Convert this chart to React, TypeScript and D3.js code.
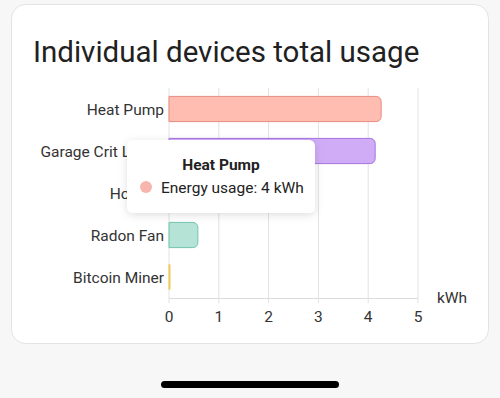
import React from 'react';
import * as d3 from 'd3';

const devices = ['Heat Pump', 'Garage Crit Loads', 'Hot Tub', 'Radon Fan', 'Bitcoin Miner'];
const usage = [4.26, 4.14, 1.8, 0.58, 0.02];
const fills = ['#ffbdb2', '#d0acf6', '#b6e3d6', '#b5e4d6', '#f7dc8a'];
const strokes = ['#e88a7f', '#a672e0', '#72c4ad', '#72c4ad', '#efc54a'];
const xTicks = [0, 1, 2, 3, 4, 5];

const W = 500;
const H = 398;
const font = 'Roboto, "Noto Sans", sans-serif';

// rounded on the right side only
const barPath = (x0: number, y: number, w: number, h: number, r: number) => {
  const rr = Math.min(r, w, h / 2);
  return `M${x0},${y}H${x0 + w - rr}A${rr},${rr} 0 0 1 ${x0 + w},${y + rr}V${y + h - rr}A${rr},${rr} 0 0 1 ${x0 + w - rr},${y + h}H${x0}Z`;
};

export default function App() {
  const xScale = d3.scaleLinear().domain([0, 5]).range([169, 418]);
  const yScale = d3.scaleBand().domain(devices).range([88, 298]).paddingInner(0.4).paddingOuter(0.2);

  const tip = { x: 127, y: 140, w: 188, h: 73 };

  return (
    <div style={{ position: 'fixed', left: 0, top: 0 }}>
      <svg width={W} height={H} style={{ display: 'block', fontFamily: font }}>
        <defs>
          <filter id="shadow" x="-20%" y="-30%" width="140%" height="160%">
            <feDropShadow dx="0" dy="2" stdDeviation="4" floodColor="#000" floodOpacity="0.13" />
          </filter>
        </defs>
        <rect x={0} y={0} width={W} height={H} fill="#f7f7f7" />
        <rect x={11.5} y={4.5} width={477} height={339} rx={14} fill="#fff" stroke="#e3e3e3" />
        <text x={33} y={62} fontSize={29.5} fill="#212121">Individual devices total usage</text>

        {xTicks.map((t) => (
          <g key={t}>
            <line x1={xScale(t)} x2={xScale(t)} y1={88} y2={303} stroke="#e2e2e2" />
            <text x={xScale(t)} y={322} fontSize={15.5} textAnchor="middle" fill="#333">{t}</text>
          </g>
        ))}
        <line x1={169} x2={418} y1={298.5} y2={298.5} stroke="#dcdcdc" />
        <text x={437} y={303} fontSize={15.5} fill="#333">kWh</text>

        {devices.map((d, i) => {
          const y = yScale(d) as number;
          return (
            <g key={d}>
              <text x={164} y={y + yScale.bandwidth() / 2 + 5.5} fontSize={15.5} textAnchor="end" fill="#333">{d}</text>
              <path
                d={barPath(xScale(0), y, xScale(usage[i]) - xScale(0), yScale.bandwidth(), 5)}
                fill={fills[i]}
                stroke={strokes[i]}
                strokeWidth={1}
              />
            </g>
          );
        })}

        <g filter="url(#shadow)">
          <rect x={tip.x} y={tip.y} width={tip.w} height={tip.h} rx={6} fill="#fff" />
        </g>
        <text x={tip.x + tip.w / 2} y={tip.y + 30} fontSize={15.5} fontWeight="bold" textAnchor="middle" fill="#222">{devices[0]}</text>
        <circle cx={tip.x + 19} cy={tip.y + 47} r={6} fill="#f7b5ad" />
        <text x={tip.x + 34} y={tip.y + 53} fontSize={15.5} fill="#222">Energy usage: {Math.round(usage[0])} kWh</text>

        <rect x={161} y={381} width={178} height={7} rx={3.5} fill="#000" />
      </svg>
    </div>
  );
}
